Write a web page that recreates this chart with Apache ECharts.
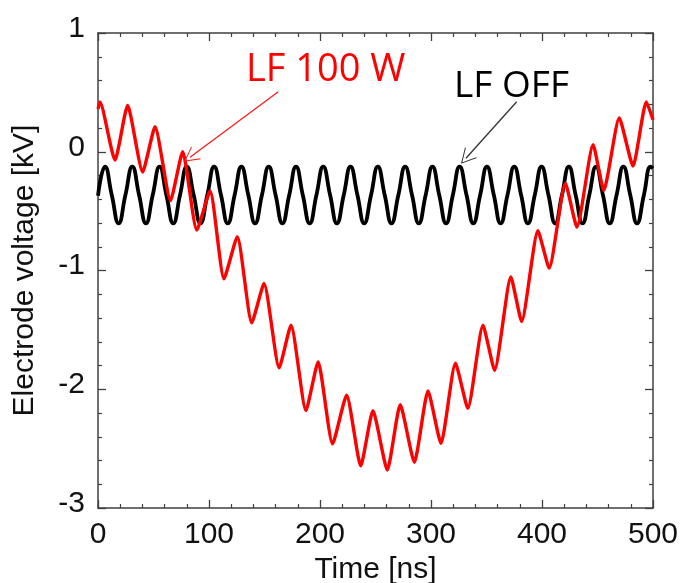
<!DOCTYPE html>
<html>
<head>
<meta charset="utf-8">
<script src="https://cdn.jsdelivr.net/npm/echarts@6/dist/echarts.min.js"></script>
<style>
html,body{margin:0;padding:0;background:#fff;}
#c{width:683px;height:583px;}
</style>
</head>
<body>
<div id="c"></div>
<script>
// ---- Data ----
const xTicks = [0, 100, 200, 300, 400, 500];
const yTicks = [-3, -2, -1, 0, 1];

// LF OFF (black): extrema and mid-crossings, time [ns]
const offTime = [0, 6.3, 12.4, 18.6, 24.7, 30.9, 37.0, 43.2, 49.3, 55.5, 61.6, 67.8, 73.9, 80.0, 86.2, 92.3, 98.5,
  104.6, 110.8, 116.9, 123.1, 129.2, 135.4, 141.5, 147.7, 153.8, 160.0, 166.1, 172.3, 178.4, 184.5, 190.7, 196.8,
  202.9, 209.1, 215.2, 221.4, 227.5, 233.7, 239.8, 246.0, 252.1, 258.3, 264.4, 270.6, 276.7, 282.9, 289.0, 295.2,
  301.3, 307.4, 313.6, 319.7, 325.8, 332.0, 338.1, 344.3, 350.4, 356.6, 362.7, 368.9, 375.0, 381.2, 387.3, 393.5,
  399.6, 405.8, 411.9, 418.0, 424.2, 430.3, 436.5, 442.6, 448.7, 454.9, 461.0, 467.2, 473.3, 479.5, 485.6, 491.8,
  497.9, 500];
const offVolt = [-0.37, -0.126, -0.364, -0.603, -0.364, -0.126, -0.364, -0.603, -0.364, -0.126, -0.364, -0.603, -0.364,
  -0.126, -0.364, -0.603, -0.364, -0.126, -0.364, -0.603, -0.364, -0.126, -0.364, -0.603, -0.364, -0.126, -0.364,
  -0.603, -0.364, -0.126, -0.364, -0.603, -0.364, -0.126, -0.364, -0.603, -0.364, -0.126, -0.364, -0.603, -0.364,
  -0.126, -0.364, -0.603, -0.364, -0.126, -0.364, -0.603, -0.364, -0.126, -0.364, -0.603, -0.364, -0.126, -0.364,
  -0.603, -0.364, -0.126, -0.364, -0.603, -0.364, -0.126, -0.364, -0.603, -0.364, -0.126, -0.364, -0.603, -0.364,
  -0.126, -0.364, -0.603, -0.364, -0.126, -0.364, -0.603, -0.364, -0.126, -0.364, -0.603, -0.364, -0.126, -0.14];

// LF 100 W (red): extrema, time [ns]
const lfTime = [0, 1.8, 15.3, 26.7, 40.2, 51.4, 65.3, 76.3, 89.0, 101.0, 113.5, 125.5, 138.5, 149.6, 163.2, 173.9,
  187.3, 198.3, 211.3, 224.0, 236.7, 247.7, 260.6, 272.3, 285.0, 297.3, 309.0, 322.0, 333.2, 346.8, 357.3, 371.9,
  381.7, 396.3, 406.5, 421.0, 431.5, 446.0, 455.7, 469.6, 482.0, 494.0, 500];
const lfVolt = [0.36, 0.42, -0.07, 0.39, -0.17, 0.21, -0.41, 0.0, -0.66, -0.33, -1.07, -0.715, -1.44, -1.11, -1.82, -1.46,
  -2.18, -1.77, -2.46, -2.05, -2.645, -2.18, -2.68, -2.13, -2.615, -2.015, -2.455, -1.78, -2.16, -1.46, -1.84, -1.055,
  -1.43, -0.665, -0.98, -0.265, -0.635, 0.06, -0.325, 0.285, -0.12, 0.42, 0.27];

// annotation arrows (data coordinates)
const lfArrow = [[162.4, 0.506], [82.9, -0.047]];
const offArrow = [[377.2, 0.421], [331.5, -0.055]];

const zip = (a, b) => a.map((v, i) => [v, b[i]]);
const axisColor = '#404040';
const font = '"Liberation Sans", Arial, sans-serif';
const chevron = 'path://M10,0 L20,20 L18.6,20 L10,2.8 L1.4,20 L0,20 Z';

const chart = echarts.init(document.getElementById('c'), null, {renderer: 'canvas'});

function xAx(pos, labels) {
  return {
    type: 'value', position: pos, min: xTicks[0], max: xTicks[xTicks.length - 1], interval: 100,
    axisLine: {show: true, onZero: false, lineStyle: {color: axisColor, width: 1.5}},
    axisTick: {show: true, inside: true, length: 8, lineStyle: {color: axisColor, width: 1.3}},
    minorTick: {show: true, splitNumber: 5, length: 4, lineStyle: {color: axisColor, width: 1.2}},
    splitLine: {show: false},
    axisLabel: {show: labels, margin: 12, fontSize: 30, color: '#111', fontFamily: font},
    name: labels ? 'Time [ns]' : '', nameLocation: 'middle', nameGap: 37,
    nameTextStyle: {fontSize: 30, color: '#111', fontFamily: font}
  };
}
function yAx(pos, labels) {
  return {
    type: 'value', position: pos, min: yTicks[0], max: yTicks[yTicks.length - 1], interval: 1,
    axisLine: {show: true, onZero: false, lineStyle: {color: axisColor, width: 1.5}},
    axisTick: {show: true, inside: true, length: 8, lineStyle: {color: axisColor, width: 1.3}},
    minorTick: {show: true, splitNumber: 5, length: 4, lineStyle: {color: axisColor, width: 1.2}},
    splitLine: {show: false},
    axisLabel: {
      show: labels, margin: 13,
      formatter: v => '{a|' + v + '}',
      rich: {a: {fontSize: 30, color: '#111', fontFamily: font, padding: [0, 0, 9, 0]}}
    },
    name: labels ? 'Electrode voltage [kV]' : '', nameLocation: 'middle', nameGap: 58, nameRotate: 90,
    nameTextStyle: {fontSize: 30, color: '#111', fontFamily: font}
  };
}

chart.setOption({
  animation: false,
  backgroundColor: '#fff',
  grid: {left: 98, top: 33, width: 555, height: 475, containLabel: false, outerBoundsMode: 'none'},
  xAxis: [xAx('bottom', true), xAx('top', false)],
  yAxis: [yAx('left', true), yAx('right', false)],
  series: [
    {
      name: 'LF OFF', type: 'line', xAxisIndex: 0, yAxisIndex: 0,
      data: zip(offTime, offVolt), showSymbol: false, smooth: 0.5,
      lineStyle: {color: '#000', width: 3.8}, z: 2,
      markLine: {
        silent: true, animation: false, symbol: ['none', chevron], symbolSize: [16, 15],
        label: {show: false},
        lineStyle: {color: '#333', width: 1.3, type: 'solid'},
        data: [[{coord: offArrow[0]}, {coord: offArrow[1]}]]
      }
    },
    {
      name: 'LF 100 W', type: 'line', xAxisIndex: 0, yAxisIndex: 0,
      data: zip(lfTime, lfVolt), showSymbol: false, smooth: 0.18,
      lineStyle: {color: '#ff0000', width: 3.4}, z: 3,
      markLine: {
        silent: true, animation: false, symbol: ['none', chevron], symbolSize: [16, 15],
        label: {show: false},
        lineStyle: {color: '#ff1a1a', width: 1.3, type: 'solid'},
        data: [[{coord: lfArrow[0]}, {coord: lfArrow[1]}]]
      }
    }
  ],
  graphic: [
    {type: 'text', left: 246, top: 51, style: {text: 'LF 100 W', fill: '#ff0000', font: '38px "Open Sans", sans-serif'}},
    {type: 'text', left: 454, top: 68, style: {text: 'LF OFF', fill: '#000', font: '37px "Open Sans", sans-serif'}}
  ]
});
</script>
</body>
</html>
